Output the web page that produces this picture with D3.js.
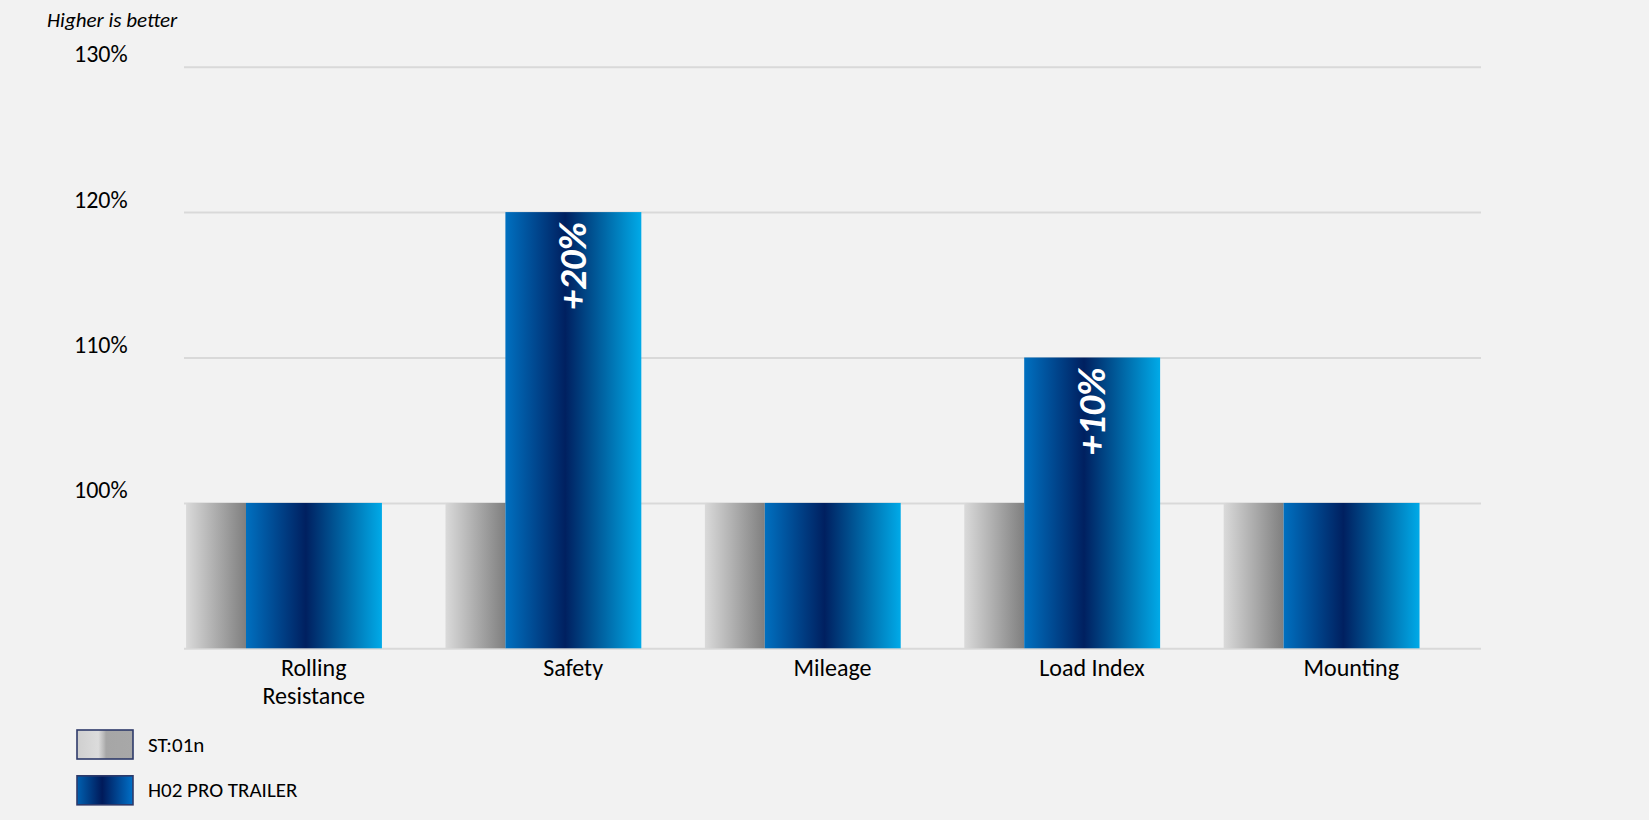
<!DOCTYPE html>
<html>
<head>
<meta charset="utf-8">
<script src="https://cdn.jsdelivr.net/npm/d3@7"></script>
<style>
  body { margin: 0; background: #f2f2f2; }
  svg { display: block; font-family: Calibri, Carlito, Lato, sans-serif; }
</style>
</head>
<body>
<div id="chart"></div>
<script>
// Chart data
var categories = ['Rolling\nResistance', 'Safety', 'Mileage', 'Load Index', 'Mounting']
var seriesNames = ['ST:01n', 'H02 PRO TRAILER']
var st01n = [100, 100, 100, 100, 100]
var h02Pro = [100, 120, 100, 110, 100]
var deltaLabels = ['', '+20%', '', '+10%', '']
var yTicks = [90, 100, 110, 120, 130]
var yTickLabels = ['', '100%', '110%', '120%', '130%']

var svgWidth = 1649
var svgHeight = 820

var svg = d3.select('#chart')
      .append('svg')
      .attr('width', svgWidth)
      .attr('height', svgHeight)

svg.append('rect')
      .attr('width', svgWidth)
      .attr('height', svgHeight)
      .attr('fill', '#f2f2f2')

// Gradients
var defs = svg.append('defs')

function addGradient(id, stops) {
      var g = defs.append('linearGradient')
            .attr('id', id)
            .attr('x1', '0%').attr('x2', '100%')
            .attr('y1', '0%').attr('y2', '0%')
      stops.forEach(s => {
            g.append('stop').attr('offset', s[0]).attr('stop-color', s[1])
      })
}

addGradient('grayGrad', [['0%', '#dadada'], ['100%', '#7f7f7f']])
addGradient('blueGrad', [['0%', '#0070c0'], ['44%', '#002060'], ['100%', '#00aae8']])
addGradient('grayLegend', [['0%', '#cfcfcf'], ['38%', '#dcdcdc'], ['48%', '#b8b8b8'], ['52%', '#a6a6a6'], ['100%', '#a8a8a8']])
addGradient('blueLegend', [['0%', '#0060b0'], ['45%', '#001a5a'], ['100%', '#0070c8']])

// Scales
var plotLeft = 184
var plotRight = 1481

var x = d3.scaleBand()
      .domain(categories)
      .range([plotLeft, plotRight])
      .padding(0)

var y = d3.scaleLinear()
      .domain([90, 130])
      .range([648.3, 66.7])

var bw = x.bandwidth()

// Gridlines + y labels
var yAxis = svg.append('g')
      .attr('transform', `translate(${plotLeft}, 0)`)
      .call(d3.axisLeft(y)
            .tickValues(yTicks)
            .tickSize(-(plotRight - plotLeft))
            .tickFormat((d, i) => yTickLabels[i]))

yAxis.select('.domain').remove()
yAxis.selectAll('.tick line')
      .attr('stroke', '#d9d9d9')
      .attr('stroke-width', 2)
yAxis.selectAll('.tick text')
      .attr('x', 74 - plotLeft)
      .attr('dy', -5)
      .attr('text-anchor', 'start')
      .style('font-family', 'Calibri, Carlito, Lato, sans-serif')
      .style('font-size', '24px')
      .attr('fill', '#000')

// Bars
var groups = svg.selectAll('.cat')
      .data(categories)
      .enter()
      .append('g')
      .attr('class', 'cat')

groups.append('rect')
      .attr('x', d => x(d) + bw * 0.008)
      .attr('width', bw * 0.231)
      .attr('y', (d, i) => y(st01n[i]))
      .attr('height', (d, i) => y(90) - y(st01n[i]))
      .attr('fill', 'url(#grayGrad)')

groups.append('rect')
      .attr('x', d => x(d) + bw * 0.239)
      .attr('width', bw * 0.524)
      .attr('y', (d, i) => y(h02Pro[i]))
      .attr('height', (d, i) => y(90) - y(h02Pro[i]))
      .attr('fill', 'url(#blueGrad)')

// Rotated delta labels
groups.filter((d, i) => deltaLabels[i] !== '')
      .append('text')
      .attr('transform', d => {
            var i = categories.indexOf(d)
            var cx = x(d) + bw * (0.239 + 0.524 / 2)
            return `translate(${cx + 13}, ${y(h02Pro[i]) + 10}) rotate(-90)`
      })
      .attr('text-anchor', 'end')
      .style('font-family', 'Calibri, Carlito, Lato, sans-serif')
      .style('font-weight', 'bold')
      .style('font-style', 'italic')
      .style('font-size', '39px')
      .attr('fill', '#fff')
      .text(d => deltaLabels[categories.indexOf(d)])

// Category labels
var catLabels = groups.append('text')
      .attr('text-anchor', 'middle')
      .style('font-size', '24px')
      .attr('fill', '#000')

catLabels.selectAll('tspan')
      .data(d => d.split('\n').map(line => ({ line: line, cat: d })))
      .enter()
      .append('tspan')
      .attr('x', d => x(d.cat) + bw / 2)
      .attr('y', (d, j) => 675.5 + j * 28.3)
      .text(d => d.line)

// Title
svg.append('text')
      .attr('x', 47)
      .attr('y', 26.5)
      .style('font-style', 'italic')
      .style('font-size', '21px')
      .attr('fill', '#000')
      .text('Higher is better')

// Legend
var legendFills = ['url(#grayLegend)', 'url(#blueLegend)']
var legend = svg.selectAll('.legend')
      .data(seriesNames)
      .enter()
      .append('g')
      .attr('class', 'legend')
      .attr('transform', (d, i) => `translate(77, ${730 + i * 45.8})`)

legend.append('rect')
      .attr('width', 56)
      .attr('height', 29)
      .attr('fill', (d, i) => legendFills[i])
      .attr('stroke', '#2e3a6a')
      .attr('stroke-width', 1.6)

legend.append('text')
      .attr('x', 71)
      .attr('y', 21.5)
      .style('font-size', '21px')
      .attr('fill', '#000')
      .text(d => d)
</script>
</body>
</html>
